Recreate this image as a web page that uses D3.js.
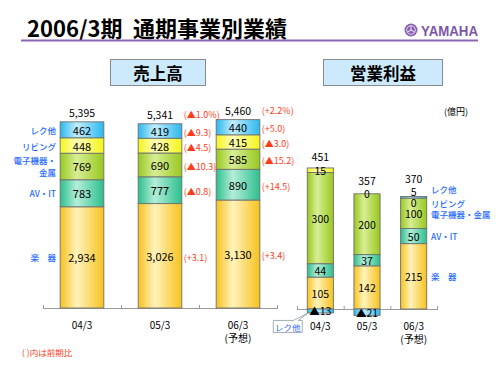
<!DOCTYPE html>
<html><head><meta charset="utf-8">
<script src="https://cdn.jsdelivr.net/npm/d3@7"></script>
<style>
body{margin:0;background:#fff;}
svg{display:block;font-family:"Noto Sans CJK JP","Noto Sans",sans-serif;}
</style></head>
<body><svg id="chart" width="500" height="375"></svg>
<script>
var years = ["04/3", "05/3", "06/3"];
var segments = ["楽器", "AV・IT", "電子機器・金属", "リビング", "レク他"];

// 売上高 (億円)
var salesGakki = [2934, 3026, 3130];
var salesAvit = [783, 777, 890];
var salesDenshi = [769, 690, 585];
var salesLiving = [448, 428, 415];
var salesRec = [462, 419, 440];
var salesTotal = [5395, 5341, 5460];

// 前期比 (05/3, 06/3) : total, レク他, リビング, 電子機器・金属, AV・IT, 楽器
var changeTotal = ["", "(▲1.0%)", "(+2.2%)"];
var changeRec = ["", "(▲9.3)", "(+5.0)"];
var changeLiving = ["", "(▲4.5)", "(▲3.0)"];
var changeDenshi = ["", "(▲10.3)", "(▲15.2)"];
var changeAvit = ["", "(▲0.8)", "(+14.5)"];
var changeGakki = ["", "(+3.1)", "(+3.4)"];

// 営業利益 (億円)
var profitGakki = [105, 142, 215];
var profitAvit = [44, 37, 50];
var profitDenshi = [300, 200, 100];
var profitLiving = [15, 0, 0];
var profitRec = [-13, -21, 5];
var profitTotal = [451, 357, 370];

var segColors = ["#F7C21E", "#2DBF8E", "#98C81E", "#F4F41C", "#2BB8EE"];
var segLight = ["#FFF3BC", "#B4EED9", "#D8EE96", "#FFFFB8", "#C2EEFF"];
var blue = "#1f6bff";
var red = "#ff3b1a";

var svg = d3.select("#chart");
var defs = svg.append("defs");
segments.forEach(function (s, i) {
  var lg = defs.append("linearGradient").attr("id", "g" + i)
    .attr("x1", 0).attr("x2", 1).attr("y1", 0).attr("y2", 0);
  lg.append("stop").attr("offset", 0).attr("stop-color", segColors[i]);
  lg.append("stop").attr("offset", 0.38).attr("stop-color", segLight[i]);
  lg.append("stop").attr("offset", 1).attr("stop-color", segColors[i]);
});

// title
svg.append("text").attr("x", 27).attr("y", 37).attr("font-size", 22).attr("font-weight", "bold")
  .text("2006/3期");
svg.append("text").attr("x", 133).attr("y", 37).attr("font-size", 22).attr("font-weight", "bold")
  .text("通期事業別業績");
svg.append("line").attr("x1", 21).attr("x2", 478).attr("y1", 40.5).attr("y2", 40.5)
  .attr("stroke", "#8966b4").attr("stroke-width", 2);

// yamaha logo
var logo = svg.append("g").attr("transform", "translate(411,30)");
logo.append("circle").attr("r", 6.5).attr("fill", "#8a60b0");
logo.append("circle").attr("r", 4.3).attr("fill", "none").attr("stroke", "#e8dcf2").attr("stroke-width", 0.9);
[0, 120, 240].forEach(function (a) {
  logo.append("line").attr("x1", 0).attr("y1", 0).attr("x2", 0).attr("y2", -4.3)
    .attr("stroke", "#e8dcf2").attr("stroke-width", 1).attr("transform", "rotate(" + a + ")");
});
svg.append("text").attr("x", 421).attr("y", 35.5).attr("font-family", "Liberation Sans Narrow, Arial Narrow, sans-serif")
  .attr("font-weight", "bold").attr("font-size", 15).attr("fill", "#7e56a8")
  .attr("textLength", 57).attr("lengthAdjust", "spacingAndGlyphs").text("YAMAHA");

// section header boxes
function header(x0, x1, label) {
  svg.append("rect").attr("x", x0 + 0.5).attr("y", 59.5).attr("width", x1 - x0).attr("height", 26)
    .attr("fill", "#cdeafc").attr("stroke", "#8a8a8a");
  svg.append("text").attr("x", (x0 + x1) / 2 + 0.5).attr("y", 73).attr("dominant-baseline", "central")
    .attr("text-anchor", "middle").attr("font-size", 16.5).attr("font-weight", "bold").text(label);
}
header(110, 205, "売上高");
header(323, 442, "営業利益");

svg.append("text").attr("x", 444).attr("y", 111).attr("dominant-baseline", "central")
  .attr("font-size", 9).text("(億円)");

function rows(vals) {
  return years.map(function (y, i) {
    var r = { year: y };
    segments.forEach(function (s, k) { r[s] = vals[k][i]; });
    return r;
  });
}

// diverging stack; zero values sit on top of the positive pile
function stackIt(data) {
  var st = d3.stack().keys(segments).offset(d3.stackOffsetDiverging)(data);
  data.forEach(function (row, j) {
    var top = 0;
    st.forEach(function (layer) {
      var d = layer[j];
      if (row[layer.key] > 0) top = d[1];
      else if (row[layer.key] === 0) { d[0] = top; d[1] = top; }
    });
  });
  return st;
}

function axis(x, base) {
  var g = svg.append("g").attr("stroke", "#9a9a9a").attr("stroke-width", 1);
  var r = x.range();
  g.append("line").attr("x1", r[0]).attr("x2", r[1]).attr("y1", base + 0.5).attr("y2", base + 0.5);
  var edges = years.map(function (d) { return x(d); }).concat([r[1]]);
  g.selectAll("line.tick").data(edges).join("line").attr("class", "tick")
    .attr("x1", function (d) { return d + 0.5; }).attr("x2", function (d) { return d + 0.5; })
    .attr("y1", base - 3).attr("y2", base + 1);
  svg.append("g").selectAll("text").data(years).join("text")
    .attr("x", function (d) { return x(d) + x.bandwidth() / 2; }).attr("y", base + 21)
    .attr("text-anchor", "middle").attr("font-size", 10).text(function (d) { return d; });
  svg.append("text").attr("x", x(years[2]) + x.bandwidth() / 2).attr("y", base + 34)
    .attr("text-anchor", "middle").attr("font-size", 10).text("(予想)");
}

function fmt(v) { return v < 0 ? "▲" + Math.abs(v) : d3.format(",")(v); }

// ---------- 売上高 ----------
var salesData = rows([salesGakki, salesAvit, salesDenshi, salesLiving, salesRec]);
var sStack = stackIt(salesData);
var x1 = d3.scaleBand().domain(years).range([43, 277]);
var y1 = d3.scaleLinear().domain([0, 6000]).range([308, 101]);
var bw1 = x1.bandwidth() * 0.56;
var bx1 = function (d) { return x1(d) + (x1.bandwidth() - bw1) / 2; };

axis(x1, 308);

sStack.forEach(function (layer, k) {
  var g = svg.append("g");
  g.selectAll("rect").data(layer).join("rect")
    .attr("x", function (d) { return bx1(d.data.year); })
    .attr("y", function (d) { return y1(d[1]); })
    .attr("width", bw1)
    .attr("height", function (d) { return y1(d[0]) - y1(d[1]); })
    .attr("fill", "url(#g" + k + ")").attr("stroke", "#6f6f6f").attr("stroke-width", 0.9);
  g.selectAll("text").data(layer).join("text")
    .attr("x", function (d) { return bx1(d.data.year) + bw1 / 2; })
    .attr("y", function (d) { return (y1(d[0]) + y1(d[1])) / 2; })
    .attr("dominant-baseline", "central").attr("text-anchor", "middle").attr("font-size", 11)
    .text(function (d) { return fmt(d.data[layer.key]); });
});

svg.append("g").selectAll("text").data(salesTotal).join("text")
  .attr("x", function (d, i) { return bx1(years[i]) + bw1 / 2; })
  .attr("y", function (d) { return y1(d) - 9; })
  .attr("dominant-baseline", "central").attr("text-anchor", "middle").attr("font-size", 10.5)
  .text(fmt);

// 前期比 annotations
var changeBySeg = [changeGakki, changeAvit, changeDenshi, changeLiving, changeRec];
[1, 2].forEach(function (i) {
  var xa = bx1(years[i]) + bw1 + 2;
  svg.append("text").attr("x", xa).attr("y", y1(salesTotal[i]) - 9).attr("dominant-baseline", "central")
    .attr("font-size", 9).attr("fill", red).text(changeTotal[i]);
  sStack.forEach(function (layer, k) {
    var d = layer[i];
    svg.append("text").attr("x", xa).attr("y", (y1(d[0]) + y1(d[1])) / 2 + 1.5)
      .attr("dominant-baseline", "central").attr("font-size", 9).attr("fill", red)
      .text(changeBySeg[k][i]);
  });
});

// left legend labels (aligned to first bar)
var leftLabels = [["楽　器"], ["AV・IT"], ["電子機器・", "金属"], ["リビング"], ["レク他"]];
sStack.forEach(function (layer, k) {
  var d = layer[0];
  var cy = (y1(d[0]) + y1(d[1])) / 2;
  var lines = leftLabels[k];
  lines.forEach(function (t, j) {
    svg.append("text").attr("x", 56).attr("y", cy + (j - (lines.length - 1) / 2) * 12)
      .attr("dominant-baseline", "central").attr("text-anchor", "end")
      .attr("font-size", 8.5).attr("font-weight", 500).attr("fill", blue).text(t);
  });
});

svg.append("text").attr("x", 22).attr("y", 352).attr("dominant-baseline", "central")
  .attr("font-size", 8.5).attr("fill", red).text("( )内は前期比");

// ---------- 営業利益 ----------
var profitData = rows([profitGakki, profitAvit, profitDenshi, profitLiving, profitRec]);
var pStack = stackIt(profitData);
var x2 = d3.scaleBand().domain(years).range([297, 437]);
var y2 = d3.scaleLinear().domain([0, 500]).range([309, 157]);
var bw2 = x2.bandwidth() * 0.56;
var bx2 = function (d) { return x2(d) + (x2.bandwidth() - bw2) / 2; };

axis(x2, 309);

// label positions per bar, spread apart when segments are thin
var labelPos = years.map(function (yr, i) {
  var ys = pStack.map(function (layer) { var d = layer[i]; return (y2(d[0]) + y2(d[1])) / 2; });
  var order = d3.range(segments.length).filter(function (k) { return profitData[i][segments[k]] >= 0; });
  for (var it = 0; it < 30; it++) {
    for (var a = 0; a < order.length - 1; a++) {
      var lo = order[a], hi = order[a + 1];
      var gap = ys[lo] - ys[hi];
      if (gap < 11) { var push = (11 - gap) / 2; ys[lo] += push; ys[hi] -= push; }
    }
  }
  return ys;
});

pStack.forEach(function (layer, k) {
  var g = svg.append("g");
  g.selectAll("rect").data(layer).join("rect")
    .attr("x", function (d) { return bx2(d.data.year); })
    .attr("y", function (d) { return y2(d[1]); })
    .attr("width", bw2)
    .attr("height", function (d) { return y2(d[0]) - y2(d[1]); })
    .attr("fill", "url(#g" + k + ")").attr("stroke", "#6f6f6f").attr("stroke-width", 0.9);
  g.selectAll("text").data(layer).join("text")
    .attr("x", function (d) { return bx2(d.data.year) + bw2 / 2; })
    .attr("y", function (d, i) { return labelPos[i][k]; })
    .attr("dominant-baseline", "central").attr("text-anchor", "middle").attr("font-size", 10.5)
    .text(function (d) { return fmt(d.data[layer.key]); });
});

svg.append("g").selectAll("text").data(profitTotal).join("text")
  .attr("x", function (d, i) { return bx2(years[i]) + bw2 / 2; })
  .attr("y", function (d, i) {
    var top = d3.min(labelPos[i]);
    var barTop = d3.min(pStack, function (l) { return y2(l[i][1]); });
    return Math.min(top - 13, barTop - 11);
  })
  .attr("dominant-baseline", "central").attr("text-anchor", "middle").attr("font-size", 10.5)
  .text(fmt);

// right legend labels (aligned to last bar)
var rightLabels = ["楽　器", "AV・IT", "電子機器・金属", "リビング", "レク他"];
rightLabels.forEach(function (t, k) {
  svg.append("text").attr("x", 431).attr("y", labelPos[2][k] + (k === 4 ? -3 : 0))
    .attr("dominant-baseline", "central").attr("font-size", 8.5).attr("font-weight", 500)
    .attr("fill", blue).text(t);
});

// callout for negative レク他
var tipX = bx2(years[0]), tipY = y2(profitRec[0]) + 0.5;
var bxL = tipX - 34, bxT = tipY + 7;
svg.append("path")
  .attr("d", "M" + bxL + "," + bxT + " H" + (bxL + 20) + " L" + tipX + "," + tipY +
    " L" + (bxL + 25) + "," + bxT + " H" + (bxL + 29) + " V" + (bxT + 12) + " H" + bxL + " Z")
  .attr("fill", "#fff").attr("stroke", "#8c9aa8").attr("stroke-width", 0.8);
svg.append("text").attr("x", bxL + 14.5).attr("y", bxT + 6.5).attr("dominant-baseline", "central")
  .attr("text-anchor", "middle").attr("font-size", 8.5).attr("fill", blue).text("レク他");
</script>
</body></html>
